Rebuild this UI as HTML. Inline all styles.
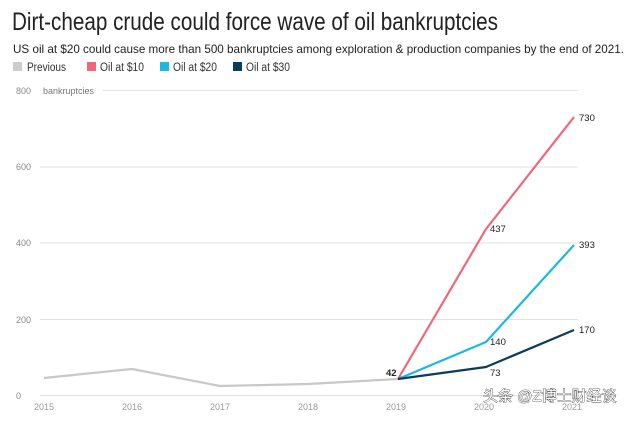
<!DOCTYPE html>
<html><head><meta charset="utf-8"><style>
body{margin:0;background:#fff;width:640px;height:417px;overflow:hidden;font-family:"Liberation Sans","Noto Sans CJK SC",sans-serif;}
</style></head><body>
<svg width="640" height="417" xmlns="http://www.w3.org/2000/svg" font-family="Liberation Sans, Noto Sans CJK SC, sans-serif">
<text x="12" y="30" font-size="25" fill="#222" textLength="486" lengthAdjust="spacingAndGlyphs">Dirt-cheap crude could force wave of oil bankruptcies</text>
<text x="13" y="53" font-size="12" fill="#222" textLength="611" lengthAdjust="spacingAndGlyphs">US oil at $20 could cause more than 500 bankruptcies among exploration &amp; production companies by the end of 2021.</text>
<g font-size="11.5" fill="#333">
<rect x="13" y="62" width="9" height="9" fill="#ccc"/><text x="27" y="71" textLength="39" lengthAdjust="spacingAndGlyphs">Previous</text>
<rect x="87" y="62" width="9" height="9" fill="#f0677a"/><text x="100" y="71" textLength="44" lengthAdjust="spacingAndGlyphs">Oil at $10</text>
<rect x="160" y="62" width="9" height="9" fill="#1cb8e4"/><text x="173" y="71" textLength="44" lengthAdjust="spacingAndGlyphs">Oil at $20</text>
<rect x="233" y="62" width="9" height="9" fill="#0b3d5a"/><text x="246" y="71" textLength="44" lengthAdjust="spacingAndGlyphs">Oil at $30</text>
</g>
<g stroke="#e2e2e2" stroke-width="1">
<line x1="103" y1="90.5" x2="578" y2="90.5"/>
<line x1="40" y1="167" x2="578" y2="167"/>
<line x1="40" y1="243" x2="578" y2="243"/>
<line x1="40" y1="319.5" x2="578" y2="319.5"/>
<line x1="40" y1="395.5" x2="578" y2="395.5"/>
</g>
<g font-size="9" fill="#888">
<text x="16" y="94">800</text><text x="43" y="94" fill="#777">bankruptcies</text>
<text x="16" y="170">600</text><text x="16" y="246">400</text><text x="16" y="323">200</text><text x="16" y="399">0</text>
</g>
<g font-size="9" fill="#999" text-anchor="middle">
<text x="44" y="410">2015</text><text x="132" y="410">2016</text><text x="220" y="410">2017</text><text x="308" y="410">2018</text><text x="396" y="410">2019</text><text x="484" y="410">2020</text><text x="572" y="410">2021</text>
</g>
<g fill="none" stroke-width="2.2" stroke-linejoin="round">
<polyline stroke="#c8c8c8" points="44,378 132,369 220,386 308,384 398,379"/>
<polyline stroke="#f0677a" points="398,379 486,229 574,117"/>
<polyline stroke="#1cb8e4" points="398,379 486,342 574,245"/>
<polyline stroke="#0b3d5a" points="398,379 486,367 574,330"/>
</g>
<g font-size="9.5" fill="#222">
<text x="386" y="376" font-weight="bold">42</text>
<text x="490" y="232">437</text><text x="579" y="121">730</text>
<text x="490" y="345">140</text><text x="579" y="248">393</text>
<text x="490" y="376">73</text><text x="579" y="333">170</text>
</g>
<text x="483" y="401" font-size="15" fill="#fff" stroke="#444" stroke-width="0.8" paint-order="stroke">头条 @Z博士财经谈</text>
</svg>
</body></html>
